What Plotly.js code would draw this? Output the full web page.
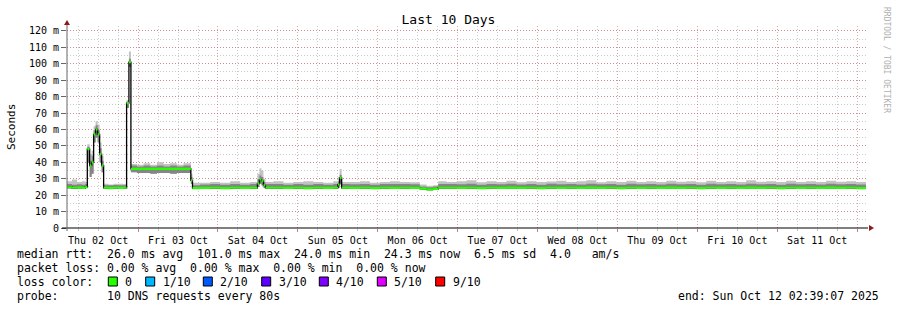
<!DOCTYPE html>
<html>
<head>
<meta charset="utf-8">
<script src="https://cdn.plot.ly/plotly-3.0.1.min.js"></script>
<style>html,body{margin:0;padding:0;background:#fff;}#chart{width:897px;height:310px;}</style>
</head>
<body>
<div id="chart"></div>
<script>
// ---- data (hours since start, values in ms) ----
const startUTC = Date.UTC(2025, 9, 2, 2, 39, 7);
const endLabel = '2025-10-12 02:39:07';
const hoursFromStart = [0, 1.5, 3, 4.5, 5.5, 6.1, 6.8, 7.4, 8.0, 8.6, 9.2, 9.8, 10.4, 11.0, 12.5, 14, 15.5, 17, 17.9, 18.6, 19.2,
  21, 23, 25, 27, 29, 31, 33, 35, 37.2, 37.7, 40, 43, 46, 49, 52, 55, 57.2, 57.8, 58.4, 59.0, 59.6,
  62, 65, 68, 71, 74, 77, 80, 81.4, 81.9, 82.5, 85, 88, 91, 94, 97, 100, 103, 106, 108, 110, 111.5,
  114, 117, 120, 123, 126, 129, 132, 135, 138, 141, 144, 147, 150, 153, 156, 159, 162, 165, 168, 171,
  174, 177, 180, 183, 186, 189, 192, 195, 198, 201, 204, 207, 210, 213, 216, 219, 222, 225, 228, 231,
  234, 237, 240];
const medianRtt = [24.8, 24.5, 24.6, 24.4, 25.0, 48.0, 38.0, 40.0, 57.0, 60.0, 57.0, 45.0, 38.0, 24.5, 24.3, 24.5, 24.4, 24.5, 76.0, 101.0, 36.0,
  36.0, 36.0, 36.0, 36.0, 36.0, 36.0, 36.0, 36.0, 29.0, 24.3, 24.4, 24.5, 24.3, 24.5, 24.4, 24.5, 27.0, 29.5, 28.5, 26.0, 24.5,
  24.5, 24.4, 24.5, 24.3, 24.5, 24.4, 24.5, 26.5, 30.5, 24.5, 24.4, 24.5, 24.3, 24.5, 24.4, 24.5, 24.4, 24.0, 23.5, 23.8, 24.5,
  24.5, 24.4, 24.5, 24.3, 24.5, 24.4, 24.6, 24.4, 24.5, 24.3, 24.5, 24.4, 24.5, 24.4, 24.6, 24.4, 24.5, 24.3, 24.5, 24.4,
  24.5, 24.4, 24.6, 24.4, 24.5, 24.3, 24.5, 24.4, 24.5, 24.4, 24.6, 24.4, 24.5, 24.3, 24.5, 24.4, 24.5, 24.4, 24.6, 24.4,
  24.5, 24.3, 24.3];
const smokeMin = [24.0, 23.8, 24.0, 23.8, 24.2, 40.0, 31.0, 33.0, 52.0, 55.0, 52.0, 40.0, 34.0, 24.0, 23.8, 24.0, 23.8, 24.0, 73.0, 98.0, 34.0,
  33.5, 33.5, 33.0, 33.5, 33.5, 33.0, 33.5, 33.5, 27.0, 23.8, 23.8, 24.0, 23.8, 24.0, 23.9, 24.0, 25.0, 27.0, 26.0, 24.5, 24.0,
  24.0, 23.8, 24.0, 23.8, 24.0, 23.9, 24.0, 24.5, 27.0, 24.0, 23.8, 24.0, 23.8, 24.0, 23.9, 24.0, 23.8, 23.3, 22.8, 23.2, 24.0,
  24.0, 23.9, 24.0, 23.8, 24.0, 23.9, 24.1, 23.9, 24.0, 23.8, 24.0, 23.9, 24.0, 23.8, 24.1, 23.9, 24.0, 23.8, 24.0, 23.9,
  24.0, 23.9, 24.1, 23.9, 24.0, 23.8, 24.0, 23.9, 24.0, 23.8, 24.1, 23.9, 24.0, 23.8, 24.0, 23.9, 24.0, 23.9, 24.1, 23.9,
  24.0, 23.8, 23.8];
const smokeMid = [26.8, 26.4, 26.6, 26.4, 26.8, 49.5, 41.0, 44.0, 59.5, 62.5, 59.5, 48.5, 41.0, 26.0, 26.0, 26.2, 26.0, 26.0, 77.0, 103.0, 38.0,
  37.5, 38.0, 37.5, 38.0, 37.5, 38.0, 37.5, 38.0, 31.0, 26.0, 26.5, 26.8, 26.4, 26.8, 26.4, 26.8, 29.5, 32.0, 31.0, 28.0, 26.8,
  26.8, 26.4, 26.8, 26.4, 26.8, 26.4, 26.8, 28.5, 32.5, 26.8, 26.6, 26.8, 26.4, 26.8, 26.8, 26.8, 26.6, 25.2, 24.8, 25.2, 26.8,
  26.8, 26.6, 27.0, 26.4, 26.8, 26.6, 27.0, 26.5, 26.8, 26.4, 26.9, 26.6, 26.8, 26.5, 27.0, 26.6, 26.8, 26.4, 26.9, 26.6,
  26.8, 26.5, 27.0, 26.6, 26.8, 26.4, 26.9, 26.6, 26.8, 26.5, 27.0, 26.6, 26.8, 26.4, 26.9, 26.6, 26.8, 26.5, 27.0, 26.6,
  26.8, 26.5, 26.5];
const smokeMax = [28.5, 29.5, 28.0, 28.5, 28.0, 51.0, 45.0, 47.0, 62.0, 65.0, 63.0, 52.0, 44.0, 27.0, 26.5, 27.0, 27.0, 26.8, 78.0, 107.5, 39.0,
  38.5, 39.5, 38.5, 40.0, 39.0, 39.5, 38.5, 39.5, 33.0, 27.5, 27.5, 28.0, 27.5, 28.5, 27.5, 28.0, 33.0, 36.4, 35.0, 30.0, 28.0,
  28.5, 27.5, 28.0, 28.5, 28.0, 27.5, 28.5, 31.0, 36.0, 28.0, 28.0, 28.5, 27.5, 28.0, 28.5, 28.0, 27.8, 26.5, 25.8, 26.0, 28.5,
  28.0, 28.5, 29.0, 27.8, 28.5, 28.0, 28.8, 27.8, 28.5, 28.0, 28.3, 28.8, 28.0, 28.5, 29.0, 27.8, 28.5, 28.0, 28.8, 28.0,
  28.5, 28.0, 28.8, 28.2, 28.5, 27.8, 28.8, 28.0, 28.5, 28.0, 29.0, 28.2, 28.5, 28.0, 28.8, 28.0, 28.5, 28.0, 28.8, 28.2,
  28.5, 28.0, 28.0];

const yTickVals = [0, 10, 20, 30, 40, 50, 60, 70, 80, 90, 100, 110, 120];
const yTickText = ['0', '10 m', '20 m', '30 m', '40 m', '50 m', '60 m', '70 m', '80 m', '90 m', '100 m', '110 m', '120 m'];

const lossLabels = ['0', '1/10', '2/10', '3/10', '4/10', '5/10', '9/10'];
const lossColors = ['#26ff00', '#00b8ff', '#0059ff', '#5e00ff', '#7e00ff', '#dd00ff', '#ff0000'];

const statLines = [
  'median rtt:  26.0 ms avg  101.0 ms max  24.0 ms min  24.3 ms now  6.5 ms sd  4.0   am/s',
  'packet loss: 0.00 % avg  0.00 % max  0.00 % min  0.00 % now',
  'loss color:',
  'probe:       10 DNS requests every 80s'
];
const endText = 'end: Sun Oct 12 02:39:07 2025';

// ---- build ----
function toDate(h) {
  return new Date(startUTC + h * 3600000).toISOString().slice(0, 19).replace('T', ' ');
}
const xs = hoursFromStart.map(toDate);
const startLabel = toDate(0);

const PL = 67, PR = 866, PT = 26, PB = 228;
const W = PR - PL, H = PB - PT;
const px = x => (x - PL) / W;
const py = y => (PB - y) / H;
const nb = s => s.replace(/ /g, '\u00a0');
const MONO = 'DejaVu Sans Mono, monospace';

const base = {x: xs, type: 'scatter', mode: 'lines', hoverinfo: 'skip', showlegend: false};
const traces = [
  Object.assign({}, base, {y: smokeMin, line: {width: 0, shape: 'hv'}}),
  Object.assign({}, base, {y: smokeMax, line: {width: 0, shape: 'hv'}, fill: 'tonexty', fillcolor: '#c2c2c2'}),
  Object.assign({}, base, {y: smokeMin, line: {width: 0, shape: 'hv'}}),
  Object.assign({}, base, {y: smokeMid, line: {width: 0, shape: 'hv'}, fill: 'tonexty', fillcolor: '#858585'}),
  Object.assign({}, base, {y: medianRtt, line: {width: 1.3, shape: 'hv', color: '#000'}}),
  Object.assign({}, base, {y: medianRtt.map(v => v - 0.65), line: {width: 0, shape: 'hv'}}),
  Object.assign({}, base, {y: medianRtt.map(v => v + 0.65), line: {width: 0, shape: 'hv'}, fill: 'tonexty', fillcolor: lossColors[0]})
];

const annotations = [];
const lineY = [254, 268, 282, 296];
statLines.forEach((t, i) => {
  annotations.push({xref: 'paper', yref: 'paper', x: px(15), y: py(lineY[i]), xanchor: 'left', yanchor: 'middle',
    text: nb(t), showarrow: false, font: {family: MONO, size: 11.5, color: '#000'}});
});
annotations.push({xref: 'paper', yref: 'paper', x: px(881), y: py(296), xanchor: 'right', yanchor: 'middle',
  text: nb(endText), showarrow: false, font: {family: MONO, size: 11.5, color: '#000'}});
annotations.push({xref: 'paper', yref: 'paper', x: px(11), y: py(127), xanchor: 'center', yanchor: 'middle',
  text: 'Seconds', textangle: -90, showarrow: false, font: {family: MONO, size: 11, color: '#000'}});
annotations.push({xref: 'paper', yref: 'paper', x: px(887), y: py(60), xanchor: 'center', yanchor: 'middle',
  text: nb('RRDTOOL / TOBI OETIKER'), textangle: 90, showarrow: false, font: {family: MONO, size: 8, color: '#b0b0b0'}});

const boxLeftPx = [108.3, 145.7, 203.3, 261.7, 319.3, 377.3, 435.7];
const shapes = [];
lossLabels.forEach((lab, i) => {
  const bx = boxLeftPx[i];
  shapes.push({type: 'rect', xref: 'paper', yref: 'paper', x0: px(bx), x1: px(bx + 9), y0: py(286), y1: py(277),
    fillcolor: lossColors[i], line: {color: '#000', width: 1}});
  annotations.push({xref: 'paper', yref: 'paper', x: px(bx + 15), y: py(282), xanchor: 'left', yanchor: 'middle',
    text: nb(lab), showarrow: false, font: {family: MONO, size: 11.5, color: '#000'}});
});
// axis lines + arrows
shapes.push({type: 'line', xref: 'paper', yref: 'paper', x0: px(62), x1: px(868), y0: 0, y1: 0, line: {color: '#000', width: 1}});
shapes.push({type: 'line', xref: 'paper', yref: 'paper', x0: 0, x1: 0, y0: py(231), y1: py(23), line: {color: '#666', width: 1}});
shapes.push({type: 'path', xref: 'paper', yref: 'paper',
  path: `M ${px(64)} ${py(25)} L ${px(70)} ${py(25)} L ${px(67)} ${py(20)} Z`, fillcolor: '#8b1a1a', line: {width: 0}});
shapes.push({type: 'path', xref: 'paper', yref: 'paper',
  path: `M ${px(869)} ${py(225)} L ${px(869)} ${py(231)} L ${px(874)} ${py(228)} Z`, fillcolor: '#8b1a1a', line: {width: 0}});

const layout = {
  width: 897, height: 310,
  margin: {l: PL, r: 897 - PR, t: PT, b: 310 - PB, pad: 0},
  paper_bgcolor: '#fff', plot_bgcolor: '#fff',
  showlegend: false,
  title: {text: 'Last 10 Days', font: {family: MONO, size: 13, color: '#000'}, x: 0.5, xref: 'container', xanchor: 'center',
    y: 1 - 19 / 310, yref: 'container', yanchor: 'middle'},
  xaxis: {
    type: 'date', range: [startLabel, endLabel], tick0: '2025-10-02 00:00:00', dtick: 86400000,
    ticklabelmode: 'period', tickformat: '%a %d %b', tickfont: {family: MONO, size: 10, color: '#000'},
    showgrid: true, gridcolor: 'rgba(200,90,90,0.55)', griddash: '1px,2px', gridwidth: 1,
    ticks: 'outside', ticklen: 3, tickcolor: 'rgba(200,90,90,0.8)',
    minor: {dtick: 21600000, tick0: '2025-10-02 00:00:00', showgrid: true, gridcolor: 'rgba(150,150,150,0.5)', griddash: '1px,2px',
      ticks: 'outside', ticklen: 2, tickcolor: 'rgba(150,150,150,0.6)'},
    showline: false, zeroline: false, fixedrange: true
  },
  yaxis: {
    range: [0, 123], tickmode: 'array', tickvals: yTickVals, ticktext: yTickText,
    tickfont: {family: MONO, size: 10, color: '#000'},
    showgrid: true, gridcolor: 'rgba(200,90,90,0.55)', griddash: '1px,2px',
    ticks: 'outside', ticklen: 5, tickcolor: '#666',
    minor: {dtick: 5, showgrid: true, gridcolor: 'rgba(150,150,150,0.5)', griddash: '1px,2px'},
    showline: false, zeroline: false, fixedrange: true
  },
  annotations: annotations,
  shapes: shapes
};

Plotly.newPlot('chart', traces, layout, {displayModeBar: false, staticPlot: true});
</script>
</body>
</html>
